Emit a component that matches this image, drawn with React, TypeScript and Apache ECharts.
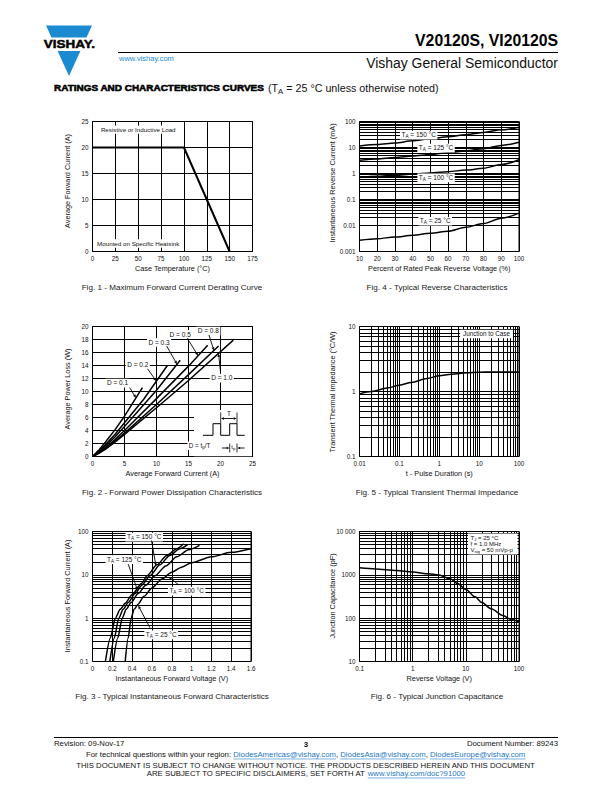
import React, { useEffect, useRef } from "react";
import * as echarts from "echarts";

const FONT = '"Liberation Sans", Arial, Helvetica, sans-serif';
const BLUE = "#1b8ad0";
const LINK = "#1f78c4";

// ---------- Fig. 1 : derating ----------
const fig1CaseTemp = [0, 100, 150];
const fig1Current = [20, 20, 0];

// ---------- Fig. 4 : reverse characteristics ----------
const fig4Percent = [10, 20, 30, 40, 50, 60, 70, 80, 90, 100];
const fig4Ir150 = [11.5, 13, 15, 18, 22, 26, 31, 38, 48, 60];
const fig4Ir125 = [3.2, 3.6, 4.1, 4.7, 5.4, 6.3, 7.4, 9, 12, 16];
const fig4Ir100 = [0.7, 0.78, 0.86, 0.95, 1.05, 1.18, 1.35, 1.6, 2.2, 3.4];
const fig4Ir25 = [0.0027, 0.0031, 0.0036, 0.0042, 0.005, 0.006, 0.0085, 0.012, 0.019, 0.03];

// ---------- Fig. 2 : power dissipation ----------
const fig2D01I = [0, 1, 2, 3.5, 5, 7.8];
const fig2D01P = [0, 1.0, 2.2, 4.1, 6.2, 10.6];
const fig2D02I = [0, 1, 2, 3.5, 5, 8, 11.7];
const fig2D02P = [0, 0.8, 1.8, 3.4, 5.2, 8.8, 14.0];
const fig2D03I = [0, 1, 2, 3.5, 5, 10, 13.7];
const fig2D03P = [0, 0.7, 1.6, 3.0, 4.6, 10.2, 14.8];
const fig2D05I = [0, 1, 2, 3.5, 5, 10, 15, 18];
const fig2D05P = [0, 0.6, 1.35, 2.6, 4.0, 8.9, 13.9, 17.1];
const fig2D08I = [0, 1, 2, 3.5, 5, 10, 15, 19.7];
const fig2D08P = [0, 0.55, 1.2, 2.35, 3.6, 8.0, 12.6, 17.0];
const fig2D10I = [0, 1, 2, 3.5, 5, 10, 15, 22];
const fig2D10P = [0, 0.5, 1.1, 2.2, 3.4, 7.5, 11.7, 17.9];

// ---------- Fig. 5 : transient thermal impedance ----------
const fig5Time = [0.01, 0.02, 0.05, 0.1, 0.2, 0.5, 1, 2, 5, 10, 20, 50, 100];
const fig5Z = [0.92, 1.0, 1.13, 1.25, 1.38, 1.58, 1.75, 1.85, 1.95, 1.98, 2.0, 2.0, 2.0];

// ---------- Fig. 3 : forward characteristics ----------
const fig3V150 = [0.13, 0.18, 0.23, 0.28, 0.33, 0.4, 0.5, 0.55, 0.65, 0.75, 0.85, 0.92];
const fig3I150 = [0.1, 0.35, 1.0, 1.6, 2.2, 3.5, 6.5, 9.5, 17, 28, 40, 52];
const fig3V125 = [0.175, 0.22, 0.265, 0.31, 0.36, 0.43, 0.5, 0.58, 0.68, 0.78, 0.88, 0.96];
const fig3I125 = [0.1, 0.35, 1.0, 1.6, 2.3, 3.7, 5.8, 9.5, 17, 28, 40, 50];
const fig3V100 = [0.21, 0.255, 0.3, 0.34, 0.39, 0.46, 0.54, 0.63, 0.74, 0.85, 0.97, 1.08];
const fig3I100 = [0.1, 0.35, 1.0, 1.6, 2.3, 3.7, 5.8, 9.5, 16, 26, 38, 48];
const fig3V25 = [0.33, 0.36, 0.39, 0.42, 0.46, 0.52, 0.6, 0.7, 0.8, 0.9, 1.0, 1.2, 1.4, 1.6];
const fig3I25 = [0.1, 0.35, 1.0, 1.6, 2.1, 3.2, 5, 8, 11.5, 15, 19, 26, 33, 40];

// ---------- Fig. 6 : junction capacitance ----------
const fig6Volt = [0.1, 0.2, 0.5, 1, 2, 3, 5, 7, 10, 15, 20, 30, 50, 70, 100];
const fig6Cap = [1450, 1370, 1260, 1160, 1060, 1000, 820, 630, 460, 310, 230, 165, 115, 95, 82];

// ---------- texts ----------
const captions = [
  "Fig. 1 - Maximum Forward Current Derating Curve",
  "Fig. 4 - Typical Reverse Characteristics",
  "Fig. 2 - Forward Power Dissipation Characteristics",
  "Fig. 5 - Typical Transient Thermal Impedance",
  "Fig. 3 - Typical Instantaneous Forward Characteristics",
  "Fig. 6 - Typical Junction Capacitance",
];
const xTitles = [
  "Case Temperature (°C)",
  "Percent of Rated Peak Reverse Voltage (%)",
  "Average Forward Current (A)",
  "t - Pulse Duration (s)",
  "Instantaneous Forward Voltage (V)",
  "Reverse Voltage (V)",
];
const yTitles = [
  "Average Forward Current (A)",
  "Instantaneous Reverse Current (mA)",
  "Average Power Loss (W)",
  "Transient Thermal Impedance (°C/W)",
  "Instantaneous Forward Current (A)",
  "Junction Capacitance (pF)",
];

const GRIDS = [
  { left: 92.5, top: 121.5, width: 160, height: 130 },
  { left: 359.5, top: 121.5, width: 159.5, height: 130 },
  { left: 92.5, top: 326.5, width: 160, height: 130 },
  { left: 359.5, top: 326.5, width: 159.5, height: 130 },
  { left: 92.5, top: 531.5, width: 158.5, height: 130 },
  { left: 359.5, top: 531.5, width: 159.5, height: 130 },
];

const zip = (xs: number[], ys: number[]) => xs.map((x, i) => [x, ys[i]]);

let ctx: CanvasRenderingContext2D | null = null;
function tw(text: string, size: number, weight = "normal") {
  if (!ctx) ctx = document.createElement("canvas").getContext("2d");
  ctx!.font = `${weight} ${size}px "Liberation Sans"`;
  return ctx!.measureText(text).width;
}
const fit = (text: string, width: number, weight = "normal") => (width / tw(text, 20, weight)) * 20;

function T(text: string, x: number, y: number, size: number, o: any = {}) {
  const align = o.align || "left";
  const style: any = {
    text,
    fontSize: size,
    fontFamily: FONT,
    fontWeight: o.weight || "normal",
    fill: o.fill || "#111",
    align,
    textAlign: align,
    verticalAlign: "middle",
    textVerticalAlign: "middle",
  };
  if (o.stroke) {
    style.stroke = o.stroke;
    style.lineWidth = o.strokeWidth;
  }
  return { type: "text", x, y, rotation: o.rotation || 0, scaleX: o.scaleX || 1, z: o.z ?? 101, silent: true, style };
}
function L(x1: number, y1: number, x2: number, y2: number, w = 1, color = "#000", z = 101) {
  return { type: "line", z, silent: true, shape: { x1, y1, x2, y2 }, style: { stroke: color, lineWidth: w } };
}
function R(x: number, y: number, width: number, height: number, z = 100) {
  return { type: "rect", z, silent: true, shape: { x, y, width, height }, style: { fill: "#fff" } };
}
function arrow(x1: number, y1: number, x2: number, y2: number, head = 3.4) {
  const a = Math.atan2(y2 - y1, x2 - x1);
  const bx = x2 - head * Math.cos(a);
  const by = y2 - head * Math.sin(a);
  const w = head * 0.42;
  return [
    L(x1, y1, bx, by, 0.9),
    {
      type: "polygon",
      z: 101,
      silent: true,
      shape: { points: [[x2, y2], [bx + w * Math.sin(a), by - w * Math.cos(a)], [bx - w * Math.sin(a), by + w * Math.cos(a)]] },
      style: { fill: "#000" },
    },
  ];
}
type Piece = { t: string; sub?: boolean; fill?: string; weight?: string; underline?: boolean };
function row(items: Piece[], x: number, y: number, size: number, align: string, o: any = {}) {
  const subSize = size * 0.72;
  const widths = items.map((it) => tw(it.t, it.sub ? subSize : size, it.weight || "normal"));
  const total = widths.reduce((a, b) => a + b, 0);
  let cx = align === "left" ? x : align === "center" ? x - total / 2 : x - total;
  const els: any[] = [];
  const pad = o.pad ?? 1.5;
  if (o.bg) els.push(R(cx - pad, y - size * 0.62, total + 2 * pad, size * 1.34));
  items.forEach((it, i) => {
    els.push(T(it.t, cx, y + (it.sub ? size * 0.3 : 0), it.sub ? subSize : size, { fill: it.fill, weight: it.weight }));
    if (it.underline) els.push(L(cx, y + size * 0.6, cx + widths[i], y + size * 0.6, 0.6, it.fill));
    cx += widths[i];
  });
  return els;
}

const TICK = 6.3;
const axisCommon = {
  axisLine: { show: false },
  axisTick: { show: false },
  splitLine: { show: true, lineStyle: { color: "#000", width: 1 } },
};
const lbl = (fmt?: any) => ({ fontSize: TICK, color: "#111", fontFamily: FONT, margin: 4, showMinLabel: true, showMaxLabel: true, formatter: fmt });
const logFmt = (v: number) => {
  const n = Number(v.toPrecision(4));
  return n >= 10000 ? String(n).replace(/\B(?=(\d{3})+(?!\d))/g, " ") : String(n);
};
const linAxis = (g: number, min: number, max: number, interval: number, fmt?: any) => ({
  type: "value", gridIndex: g, min, max, interval, ...axisCommon, axisLabel: lbl(fmt),
});
const logAxis = (g: number, min: number, max: number) => ({
  type: "log", logBase: 10, gridIndex: g, min, max, ...axisCommon, axisLabel: lbl(logFmt),
});
function minorLog(min: number, max: number) {
  const out: number[] = [];
  for (let e = Math.round(Math.log10(min)); e < Math.round(Math.log10(max)); e++)
    for (let k = 2; k <= 9; k++) out.push(Number((k * Math.pow(10, e)).toPrecision(3)));
  return out;
}
function minorSeries(g: number, xs: number[], ys: number[]) {
  return {
    type: "line", xAxisIndex: g, yAxisIndex: g, data: [], silent: true, z: 1,
    markLine: {
      silent: true, symbol: ["none", "none"], label: { show: false }, animation: false,
      lineStyle: { color: "#000", width: 1, type: "solid" },
      emphasis: { disabled: true },
      data: [...xs.map((v) => ({ xAxis: v })), ...ys.map((v) => ({ yAxis: v }))],
    },
  };
}
function curve(g: number, xs: number[], ys: number[], width = 1.5, smooth: any = 0.3) {
  return {
    type: "line", xAxisIndex: g, yAxisIndex: g, data: zip(xs, ys), showSymbol: false, symbol: "none",
    smooth, smoothMonotone: "x", lineStyle: { color: "#000", width }, z: 3, silent: true,
  };
}

function buildOption() {
  return {
    animation: false,
    backgroundColor: "#fff",
    grid: GRIDS.map((g) => ({ ...g, show: true, borderColor: "#000", borderWidth: 1, backgroundColor: "transparent" })),
    xAxis: [
      linAxis(0, 0, 175, 25),
      linAxis(1, 10, 100, 10),
      linAxis(2, 0, 25, 5),
      logAxis(3, 0.01, 100),
      linAxis(4, 0, 1.6, 0.2, (v: number) => String(Number(v.toFixed(1)))),
      logAxis(5, 0.1, 100),
    ],
    yAxis: [
      linAxis(0, 0, 25, 5),
      logAxis(1, 0.001, 100),
      linAxis(2, 0, 20, 2),
      logAxis(3, 0.1, 10),
      logAxis(4, 0.1, 100),
      logAxis(5, 10, 10000),
    ],
    series: [
      curve(0, fig1CaseTemp, fig1Current, 2, false),
      minorSeries(1, [], minorLog(0.001, 100)),
      curve(1, fig4Percent, fig4Ir150),
      curve(1, fig4Percent, fig4Ir125),
      curve(1, fig4Percent, fig4Ir100),
      curve(1, fig4Percent, fig4Ir25),
      curve(2, fig2D01I, fig2D01P, 1.5, false),
      curve(2, fig2D02I, fig2D02P, 1.5, false),
      curve(2, fig2D03I, fig2D03P, 1.5, false),
      curve(2, fig2D05I, fig2D05P, 1.5, false),
      curve(2, fig2D08I, fig2D08P, 1.5, false),
      curve(2, fig2D10I, fig2D10P, 1.5, false),
      minorSeries(3, minorLog(0.01, 100), minorLog(0.1, 10)),
      curve(3, fig5Time, fig5Z),
      minorSeries(4, [], minorLog(0.1, 100)),
      curve(4, fig3V150, fig3I150, 1.5, 0.25),
      curve(4, fig3V125, fig3I125, 1.5, 0.25),
      curve(4, fig3V100, fig3I100, 1.5, 0.25),
      curve(4, fig3V25, fig3I25, 1.5, 0.25),
      minorSeries(5, minorLog(0.1, 100), minorLog(10, 10000)),
      curve(5, fig6Volt, fig6Cap),
    ],
  };
}

function buildGraphic(chart: any) {
  const P = (g: number, x: number, y: number) => chart.convertToPixel({ gridIndex: g }, [x, y]) as number[];
  const els: any[] = [];
  const push = (a: any) => (Array.isArray(a) ? els.push(...a) : els.push(a));

  // ---- header ----
  push({ type: "polygon", z: 100, silent: true, shape: { points: [[46, 25.5], [92, 25.5], [86.5, 37.5], [51.5, 37.5]] }, style: { fill: BLUE } });
  push({ type: "polygon", z: 100, silent: true, shape: { points: [[57.6, 51], [80.4, 51], [69, 76]] }, style: { fill: BLUE } });
  const logoSize = 11.5;
  push(T("VISHAY.", 43.8, 44.6, logoSize, { weight: "bold", fill: "#000", scaleX: 51.2 / tw("VISHAY.", logoSize, "bold"), stroke: "#000", strokeWidth: 0.45 }));
  push(T("www.vishay.com", 119, 58.5, fit("www.vishay.com", 55), { fill: BLUE }));
  push(L(118, 52.5, 558, 52.5, 1));
  push(T("V20120S, VI20120S", 558, 40.5, fit("V20120S, VI20120S", 143, "bold"), { align: "right", weight: "bold", fill: "#000" }));
  push(T("Vishay General Semiconductor", 558, 62.5, fit("Vishay General Semiconductor", 192), { align: "right" }));
  const hSize = 9.2;
  push(T("RATINGS AND CHARACTERISTICS CURVES", 54, 88, hSize, {
    weight: "bold", fill: "#000", stroke: "#000", strokeWidth: 0.55,
    scaleX: 210 / tw("RATINGS AND CHARACTERISTICS CURVES", hSize, "bold"),
  }));
  const h2 = fit("(TA = 25 °C unless otherwise noted)", 172);
  push(row([{ t: "(T" }, { t: "A", sub: true }, { t: " = 25 °C unless otherwise noted)" }], 268, 88, h2, "left"));

  // ---- captions and axis titles ----
  const capSize = fit(captions[0], 181);
  const titleSize = 7.3;
  const capY = [287, 287, 492, 492, 696.5, 696.5];
  const xTitleY = [268, 268, 473, 473, 678, 678];
  const yTitleX = [67.5, 332.5, 67.5, 332.5, 67.5, 332.5];
  const yTitleC = [181, 183, 389, 392, 596, 596];
  GRIDS.forEach((g, i) => {
    const cx = i % 2 === 0 ? 172 : 437;
    push(T(captions[i], cx, capY[i], capSize, { align: "center", fill: "#222" }));
    push(T(xTitles[i], g.left + g.width / 2, xTitleY[i], titleSize, { align: "center" }));
    push(T(yTitles[i], yTitleX[i], yTitleC[i], titleSize, { align: "center", rotation: Math.PI / 2 }));
  });

  const ann = 6.5;
  // ---- Fig 1 notes ----
  {
    const a = P(0, 50, 23.5);
    const b = P(0, 50, 1.6);
    const s = fit("Resistive or Inductive Load", 74.7);
    push(row([{ t: "Resistive or Inductive Load" }], a[0], a[1], s, "center", { bg: true }));
    push(row([{ t: "Mounted on Specific Heatsink" }], b[0], b[1], s, "center", { bg: true }));
  }
  // ---- Fig 4 labels ----
  const f4 = [
    ["150", 43.4, 31],
    ["125", 53.2, 9.8],
    ["100", 53.2, 0.7],
    ["25", 52.7, 0.015],
  ] as [string, number, number][];
  f4.forEach(([t, x, y]) => {
    const p = P(1, x, y);
    push(row([{ t: "T" }, { t: "A", sub: true }, { t: ` = ${t} °C` }], p[0], p[1], ann, "center", { bg: true }));
  });
  // ---- Fig 2 labels ----
  const f2 = [
    ["D = 0.1", 3.9, 11.35, 5.8, 10.6, 6.8, 9.0],
    ["D = 0.2", 7.08, 14.2, 8.6, 13.5, 9.98, 11.58],
    ["D = 0.3", 10.4, 17.6, 11.6, 17.0, 13.2, 14.2],
    ["D = 0.5", 13.7, 18.83, 14.8, 18.2, 16.5, 15.5],
    ["D = 0.8", 18.1, 19.35, 18.2, 18.7, 18.97, 16.3],
    ["D = 1.0", 20.2, 12.1, 20.0, 13.0, 19.7, 15.84],
  ] as [string, number, number, number, number, number, number][];
  f2.forEach(([t, x, y, ax, ay, bx, by]) => {
    const p = P(2, x, y);
    const s1 = P(2, ax, ay);
    const s2 = P(2, bx, by);
    push(arrow(s1[0], s1[1], s2[0], s2[1]));
    push(row([{ t }], p[0], p[1], ann, "center", { bg: true }));
  });
  // inset waveform (Fig 2)
  {
    push(R(194, 410, 58, 46.2));
    const base = 435.3, top = 423.7;
    push({
      type: "polyline", z: 101, silent: true,
      shape: { points: [[203, base], [213, base], [213, top], [220.7, top], [220.7, base], [229.7, base], [229.7, top], [237, top], [237, base], [244.7, base]] },
      style: { stroke: "#000", lineWidth: 1, fill: null },
    });
    push(L(220.7, 412.5, 220.7, top, 0.8));
    push(L(237, 412.5, 237, top, 0.8));
    push(arrow(229, 418.5, 221, 418.5, 3));
    push(arrow(229, 418.5, 236.7, 418.5, 3));
    push(row([{ t: "T" }], 229, 413.5, 6.3, "center", { bg: true, pad: 1 }));
    push(L(229.7, 443.5, 229.7, 452.5, 0.8));
    push(L(237, 443.5, 237, 452.5, 0.8));
    push(arrow(222, 448, 229.5, 448, 3));
    push(arrow(244.5, 448, 237.2, 448, 3));
    push(row([{ t: "t" }, { t: "p", sub: true }], 233.3, 447, 6, "center"));
    push(row([{ t: "D = t" }, { t: "p", sub: true }, { t: "/T" }], 199.5, 445.5, 6.3, "center", { bg: true, pad: 1.2 }));
  }
  // ---- Fig 5 label ----
  {
    const c = P(3, 100, 10);
    push(row([{ t: "Junction to Case" }], c[0] - 32.5, c[1] + 7.2, 6.3, "center", { bg: true, pad: 3 }));
  }
  // ---- Fig 3 labels ----
  const f3 = [
    ["150", 0.522, 75.7, 0.596, 61.8, 0.64, 16.2],
    ["125", 0.32, 22.8, 0.36, 17.7, 0.455, 4.4],
    ["100", 0.95, 4.29, 0.866, 6.0, 0.768, 9.0],
    ["25", 0.694, 0.42, 0.58, 0.6, 0.462, 1.95],
  ] as [string, number, number, number, number, number, number][];
  f3.forEach(([t, x, y, ax, ay, bx, by]) => {
    const p = P(4, x, y);
    const s1 = P(4, ax, ay);
    const s2 = P(4, bx, by);
    push(arrow(s1[0], s1[1], s2[0], s2[1]));
    push(row([{ t: "T" }, { t: "A", sub: true }, { t: ` = ${t} °C` }], p[0], p[1], ann, "center", { bg: true }));
  });
  // ---- Fig 6 box ----
  {
    const c = P(5, 100, 10000);
    const bx = c[0] - 51, by = c[1] + 2;
    push(R(bx, by, 49.5, 21));
    push(row([{ t: "T" }, { t: "J", sub: true }, { t: " = 25 °C" }], bx + 2.5, by + 4.3, 6, "left"));
    push(row([{ t: "f = 1.0 MHz" }], bx + 2.5, by + 10.3, 6, "left"));
    push(row([{ t: "V" }, { t: "sig", sub: true }, { t: " = 50 mVp-p" }], bx + 2.5, by + 16.6, 6, "left"));
  }

  // ---- footer ----
  push(L(54, 737.5, 558, 737.5, 1));
  const fs = fit("THIS DOCUMENT IS SUBJECT TO CHANGE WITHOUT NOTICE. THE PRODUCTS DESCRIBED HEREIN AND THIS DOCUMENT", 461);
  push(T("Revision: 09-Nov-17", 54, 743.5, fs));
  push(T("3", 306, 744, fs, { align: "center", weight: "bold" }));
  push(T("Document Number: 89243", 558, 743.5, fs, { align: "right" }));
  push(
    row(
      [
        { t: "For technical questions within your region: " },
        { t: "DiodesAmericas@vishay.com", fill: LINK, underline: true },
        { t: ", " },
        { t: "DiodesAsia@vishay.com", fill: LINK, underline: true },
        { t: ", " },
        { t: "DiodesEurope@vishay.com", fill: LINK, underline: true },
      ],
      305.7, 754.3, fs, "center"
    )
  );
  push(T("THIS DOCUMENT IS SUBJECT TO CHANGE WITHOUT NOTICE. THE PRODUCTS DESCRIBED HEREIN AND THIS DOCUMENT", 305.5, 765, fs, { align: "center" }));
  push(
    row(
      [{ t: "ARE SUBJECT TO SPECIFIC DISCLAIMERS, SET FORTH AT " }, { t: "www.vishay.com/doc?91000", fill: LINK, underline: true }],
      306, 773.3, fs, "center"
    )
  );
  return els;
}

export default function App() {
  const ref = useRef<HTMLDivElement>(null);
  useEffect(() => {
    const chart = echarts.init(ref.current!, null, { renderer: "svg", width: 612, height: 792 });
    chart.setOption(buildOption() as any);
    chart.setOption({ graphic: { elements: buildGraphic(chart) } } as any);
    return () => chart.dispose();
  }, []);
  return <div ref={ref} style={{ position: "absolute", left: 0, top: 0, width: 612, height: 792, background: "#fff" }} />;
}
